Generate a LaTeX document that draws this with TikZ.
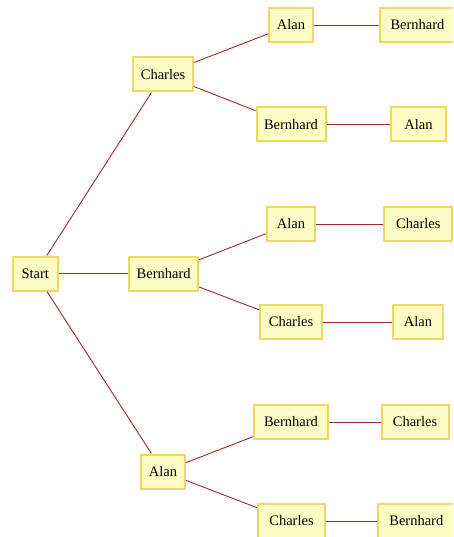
\documentclass[tikz,border=0pt]{standalone}
\usepackage{fontspec}
\setmainfont{Liberation Serif}
\usepackage{tikz}

\definecolor{boxfill}{HTML}{FFFDC6}
\definecolor{boxline}{HTML}{F0D860}
\definecolor{edgered}{HTML}{9C2A2C}

\begin{document}
\begin{tikzpicture}[x=1pt,y=-1pt,
	person/.style={draw=boxline, fill=boxfill, line width=2pt, inner xsep=0pt,
		minimum width=#1, minimum height=34pt, font=\fontsize{14.5}{17}\selectfont},
	person/.default=44pt,
	link/.style={draw=edgered, line width=0.9pt}]
	\useasboundingbox (0,0) rectangle (453,537);
	\clip (0,0) rectangle (453,537);

	% level 0
	\node[person=45pt] (start) at (35.3,273.5) {Start};

	% level 1
	\node[person=60pt] (c) at (163,74.5) {Charles};
	\node[person=69pt] (b) at (163.7,273.5) {Bernhard};
	\node[person=44pt] (a) at (163,471.5) {Alan};

	% level 2
	\node[person=44pt] (ca) at (291,25) {Alan};
	\node[person=69pt] (cb) at (291,124.5) {Bernhard};
	\node[person=48pt] (ba) at (291,224) {Alan};
	\node[person=62pt] (bc) at (291,322) {Charles};
	\node[person=74pt] (ab) at (291,422) {Bernhard};
	\node[person=67pt] (ac) at (291.5,521) {Charles};

	% level 3
	\node[person=75pt] (cab) at (417.5,25) {Bernhard};
	\node[person=55pt] (cba) at (418.5,124.5) {Alan};
	\node[person=68pt] (bac) at (418.3,224) {Charles};
	\node[person=50pt] (bca) at (418,322) {Alan};
	\node[person=67pt] (abc) at (415,422) {Charles};
	\node[person=77pt] (acb) at (416.3,521) {Bernhard};

	\draw[link] (start) -- (c);
	\draw[link] (start) -- (b);
	\draw[link] (start) -- (a);

	\draw[link] (c) -- (ca); \draw[link] (c) -- (cb);
	\draw[link] (b) -- (ba); \draw[link] (b) -- (bc);
	\draw[link] (a) -- (ab); \draw[link] (a) -- (ac);

	\draw[link] (ca) -- (cab);
	\draw[link] (cb) -- (cba);
	\draw[link] (ba) -- (bac);
	\draw[link] (bc) -- (bca);
	\draw[link] (ab) -- (abc);
	\draw[link] (ac) -- (acb);
\end{tikzpicture}
\end{document}
